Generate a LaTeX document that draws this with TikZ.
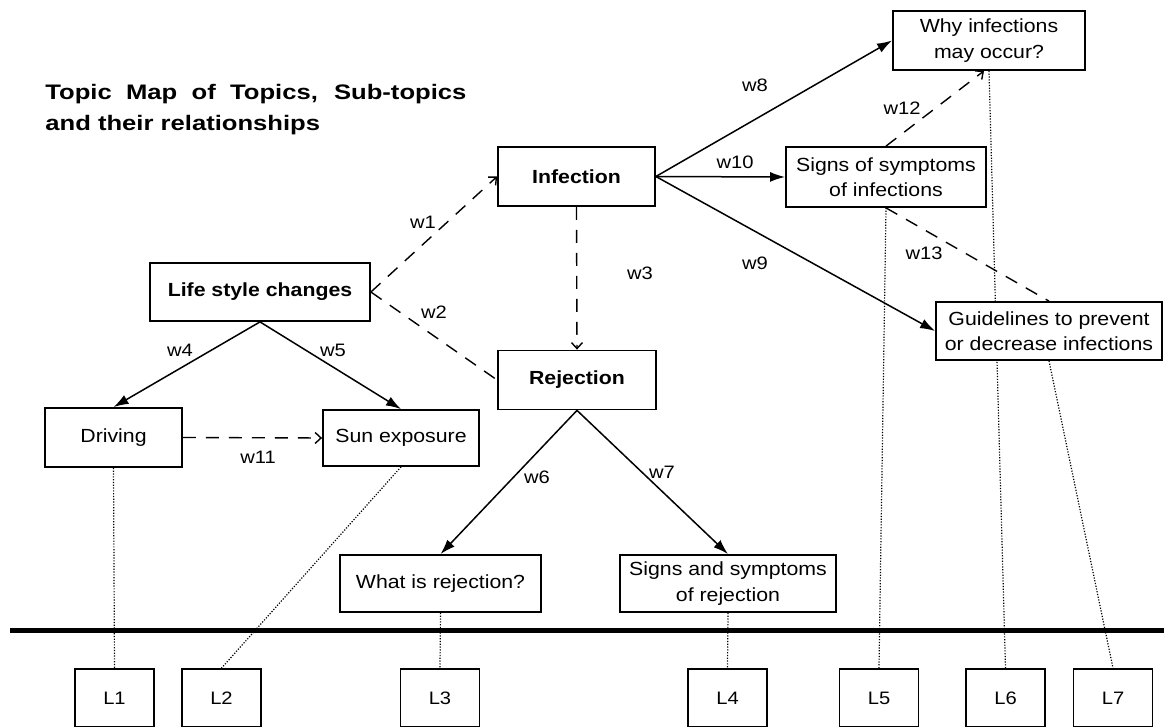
\documentclass[tikz,border=0pt]{standalone}
\usepackage{fontspec}
\setmainfont{Liberation Sans}[FakeStretch=1.12]
\newfontfamily\titlefont{Liberation Sans}[FakeStretch=1.22]
\usetikzlibrary{arrows.meta}
\pgfdeclarelayer{background}
\pgfsetlayers{background,main}

\begin{document}
\begin{tikzpicture}[x=0.5pt,y=-0.5pt,
  topic/.style={draw, line width=0.9pt, fill=white, inner sep=0pt, align=center,
    font=\fontsize{9.5}{12.75}\selectfont},
  maintopic/.style={topic, font=\fontsize{9.5}{12.75}\selectfont\bfseries},
  leaf/.style={draw, line width=0.9pt, fill=white, inner sep=0pt,
    minimum width=39.5pt, minimum height=29pt, font=\fontsize{9}{11}\selectfont},
  wlabel/.style={inner sep=0pt, font=\fontsize{9}{10}\selectfont},
  rel/.style={line width=0.75pt, -{Latex[length=7.5pt,width=5pt]}},
  assoc/.style={line width=0.7pt, dash pattern=on 6.5pt off 5pt,
    -{Straight Barb[length=3pt,width=5.5pt]}},
  assocplain/.style={line width=0.7pt, dash pattern=on 6.5pt off 5pt},
  link/.style={line width=0.6pt, dash pattern=on 0.6pt off 0.8pt},
  titletext/.style={anchor=base west, inner sep=0pt,
    font=\titlefont\fontsize{10.5}{12}\selectfont\bfseries},
]
\useasboundingbox (0,0) rectangle (1164,727);
\clip (0,0) rectangle (1164,727);

% title
\node[titletext] (title1) at (45,100)
  {\makebox[210.5pt][s]{Topic Map of Topics, Sub-topics}};
\node[titletext] (title2) at (45,131) {and their relationships};

% topics and sub-topics
\node[maintopic, minimum width=78.5pt, minimum height=29.5pt] (infection) at (576.5,176.5) {Infection};
\node[maintopic, minimum width=110pt, minimum height=29pt] (life) at (260,292) {Life style changes};
\node[maintopic, minimum width=79pt, minimum height=29.5pt] (rejection) at (577,380) {Rejection};
\node[topic, minimum width=96pt, minimum height=29.5pt] (why) at (989,40.5) {Why infections\\may occur?};
\node[topic, minimum width=100pt, minimum height=30pt] (signsinf) at (886,177) {Signs of symptoms\\of infections};
\node[topic, minimum width=113pt, minimum height=29pt] (guide) at (1049,331) {Guidelines to prevent\\or decrease infections};
\node[topic, minimum width=68.5pt, minimum height=29.5pt] (driving) at (113.5,437.5) {Driving};
\node[topic, minimum width=78pt, minimum height=28pt] (sun) at (401,438) {Sun exposure};
\node[topic, minimum width=100.5pt, minimum height=28.5pt] (whatrej) at (440.5,583.5) {What is rejection?};
\node[topic, minimum width=108pt, minimum height=28.5pt] (signsrej) at (728,583.5) {Signs and symptoms\\of rejection};

% separator
\draw[line width=2.5pt] (10,631) -- (1164,631);

% learning objects
\node[leaf] (L1) at (114.5,698) {L1};
\node[leaf] (L2) at (221.5,698) {L2};
\node[leaf] (L3) at (440,698) {L3};
\node[leaf] (L4) at (727.5,698) {L4};
\node[leaf] (L5) at (879,698) {L5};
\node[leaf] (L6) at (1005.5,698) {L6};
\node[leaf] (L7) at (1113,698) {L7};

% links from topics to learning objects
\begin{pgfonlayer}{background}
\draw[link] (driving.south) -- (L1.north);
\draw[link] (sun.south) -- (L2.north);
\draw[link] (whatrej.south) -- (L3.north);
\draw[link] (signsrej.south) -- (L4.north);
\draw[link] (signsinf.south) -- (L5.north);
\draw[link] (why.south) -- (L6.north);
\draw[link] (guide.south) -- (L7.north);
\end{pgfonlayer}

% relationships
\draw[assoc] (life.east) -- (infection.west);
\draw[assocplain] (life.east) -- (rejection.west);
\draw[assoc] (infection.south) -- (rejection.north);
\draw[rel] (life.south) -- (driving.north);
\draw[rel] (life.south) -- (sun.north);
\draw[rel] (rejection.south) -- (whatrej.north);
\draw[rel] (rejection.south) -- (signsrej.north);
\draw[rel] (infection.east) -- (why.west);
\draw[rel] (infection.east) -- (guide.west);
\draw[rel] (infection.east) -- (signsinf.west);
\draw[assoc] (driving.east) -- (sun.west);
\draw[assoc] (signsinf.north) -- ([xshift=-2.5pt]why.south);
\draw[assocplain] (signsinf.south) -- (guide.north);

% weights
\node[wlabel] (lw1) at (423,222) {w1};
\node[wlabel] (lw2) at (434,312) {w2};
\node[wlabel] (lw3) at (640,273) {w3};
\node[wlabel] (lw4) at (180,350) {w4};
\node[wlabel] (lw5) at (333,350) {w5};
\node[wlabel] (lw6) at (537,477) {w6};
\node[wlabel] (lw7) at (662,472) {w7};
\node[wlabel] (lw8) at (755,85) {w8};
\node[wlabel] (lw9) at (755,263) {w9};
\node[wlabel] (lw10) at (735,162) {w10};
\node[wlabel] (lw11) at (258,457) {w11};
\node[wlabel] (lw12) at (902,108) {w12};
\node[wlabel] (lw13) at (924,253) {w13};
\end{tikzpicture}
\end{document}
